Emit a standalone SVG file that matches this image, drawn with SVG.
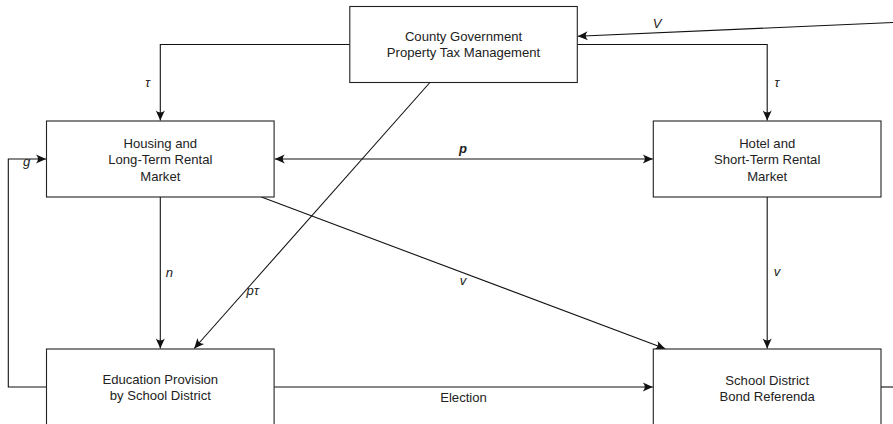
<svg xmlns="http://www.w3.org/2000/svg" width="893" height="424" viewBox="0 0 893 424">
<style>
.box{fill:#fff;stroke:#222;stroke-width:1.1}
.t{font-family:"Liberation Sans",Arial,sans-serif;font-size:13.1px;fill:#222;text-anchor:middle}
.m{font-family:"Liberation Sans",Arial,sans-serif;font-size:13.1px;fill:#222;font-style:italic;text-anchor:middle}
.c{fill:none;stroke:#111;stroke-width:1.1}
</style>
<defs>
<marker id="ah" viewBox="-11 -5 12 10" refX="0" refY="0" markerWidth="12" markerHeight="10" markerUnits="userSpaceOnUse" orient="auto-start-reverse">
<path d="M0,0 L-10,-4.5 Q-6,0 -10,4.5 Z" fill="#111"/>
</marker>
</defs>
<rect width="893" height="424" fill="#fff"/>
<g id="connectors">
<polyline class="c" points="349.8,44.5 160.3,44.5 160.3,120.5" marker-end="url(#ah)"/>
<polyline class="c" points="577.3,44.5 767.2,44.5 767.2,120.5" marker-end="url(#ah)"/>
<line class="c" x1="900" y1="22.2" x2="577.8" y2="36.3" marker-end="url(#ah)"/>
<line class="c" x1="274.8" y1="159" x2="652.8" y2="159" marker-start="url(#ah)" marker-end="url(#ah)"/>
<polyline class="c" points="46.5,387 8.3,387 8.3,159 46,159" marker-end="url(#ah)"/>
<line class="c" x1="160.3" y1="197" x2="160.3" y2="348.5" marker-end="url(#ah)"/>
<line class="c" x1="429.9" y1="82.5" x2="194.2" y2="348.5" marker-end="url(#ah)"/>
<line class="c" x1="261.4" y1="197" x2="665.3" y2="348.8" marker-end="url(#ah)"/>
<line class="c" x1="767.2" y1="197" x2="767.2" y2="348.5" marker-end="url(#ah)"/>
<line class="c" x1="274.2" y1="387" x2="652.8" y2="387" marker-end="url(#ah)"/>
<line class="c" x1="881" y1="387" x2="900" y2="387"/>
<text class="m" x="147.7" y="86.5">τ</text>
<text class="m" x="777" y="86.5">τ</text>
<text class="m" x="657" y="27.5">V</text>
<text class="m" x="463" y="152.5" font-weight="bold">p</text>
<text class="m" x="26.7" y="166">g</text>
<text class="m" x="169.3" y="276.5">n</text>
<text class="m" x="252.7" y="295">pτ</text>
<text class="m" x="463" y="284.5">v</text>
<text class="m" x="777" y="276">v</text>
<text class="t" x="463.5" y="402">Election</text>
</g>
<g id="county">
<rect class="box" x="349.8" y="6.5" width="227.5" height="76"/>
<text class="t" x="463.5" y="40.5">County Government</text>
<text class="t" x="463.5" y="57">Property Tax Management</text>
</g>
<g id="housing">
<rect class="box" x="46.5" y="121" width="227.6" height="76"/>
<text class="t" x="160.3" y="147.8">Housing and</text>
<text class="t" x="160.3" y="164.3">Long-Term Rental</text>
<text class="t" x="160.3" y="180.7">Market</text>
</g>
<g id="hotel">
<rect class="box" x="653.3" y="121" width="227.7" height="76"/>
<text class="t" x="767.2" y="147.8">Hotel and</text>
<text class="t" x="767.2" y="164.3">Short-Term Rental</text>
<text class="t" x="767.2" y="180.7">Market</text>
</g>
<g id="education">
<rect class="box" x="46.5" y="349" width="227.6" height="76"/>
<text class="t" x="160.3" y="383.5">Education Provision</text>
<text class="t" x="160.3" y="399.5">by School District</text>
</g>
<g id="school">
<rect class="box" x="653.3" y="349" width="227.7" height="76"/>
<text class="t" x="767.2" y="384.5">School District</text>
<text class="t" x="767.2" y="400.5">Bond Referenda</text>
</g>
</svg>
